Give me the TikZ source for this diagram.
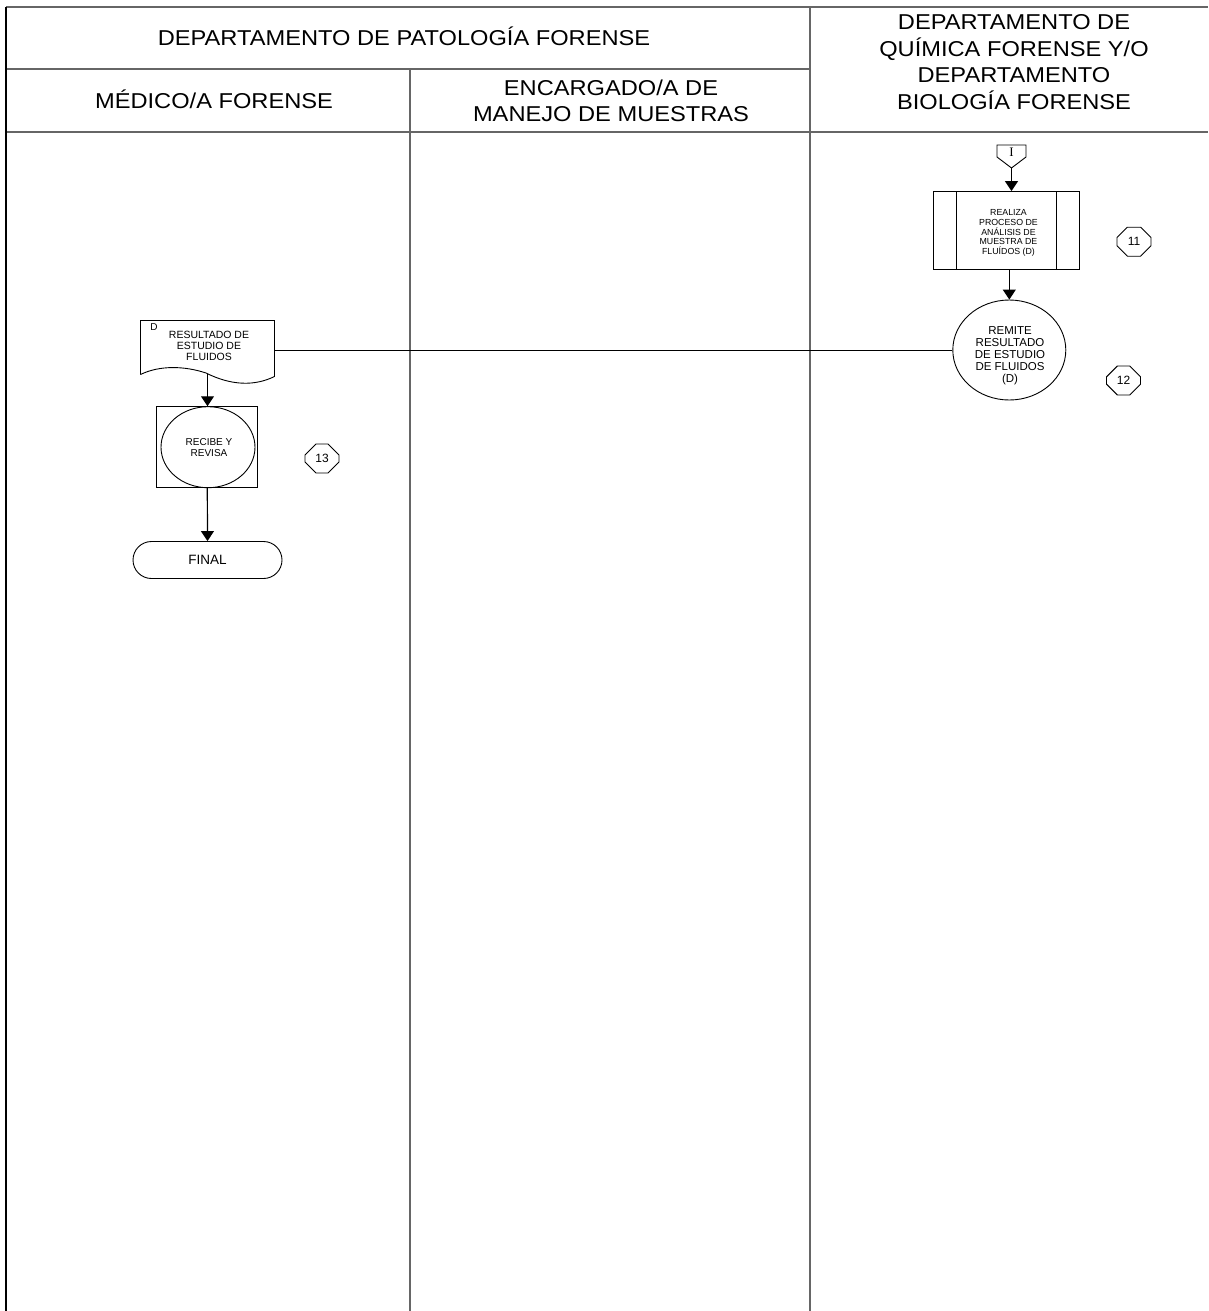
\documentclass[tikz,border=0pt]{standalone}
\usepackage{fontspec}
\setmainfont{Liberation Sans}
\newfontfamily\serifI{Liberation Serif}
\newfontfamily\hdrfont[FakeStretch=1.1]{Liberation Sans}
\usetikzlibrary{shapes.geometric,shapes.misc,arrows.meta,calc}
\begin{document}
\begin{tikzpicture}[x=1pt,y=-1pt,
  frame/.style={line width=1.3pt, draw=black!60},
  hdr/.style={align=center, font=\hdrfont\fontsize{21.5}{25.5}\selectfont, inner sep=0pt},
  hdrq/.style={hdr, font=\hdrfont\fontsize{21.5}{26.5}\selectfont},
  tiny/.style={align=center, font=\fontsize{8.8}{9.8}\selectfont, inner sep=0pt},
  flow/.style={line width=1.2pt, -{Triangle[length=10pt,width=13pt]}},
  conn/.style={line width=1pt},
  shp/.style={draw, line width=0.9pt},
  badge/.style={shp, chamfered rectangle, chamfered rectangle xsep=5pt, chamfered rectangle ysep=7pt,
    minimum width=34pt, minimum height=29pt, inner sep=0pt, font=\fontsize{12}{13}\selectfont},
]
\useasboundingbox (0,0) rectangle (1208,1311);

% swimlane frame
\draw[frame] (6,7) -- (1208,7);
\draw[frame] (6,69) -- (810,69);
\draw[frame] (6,132) -- (1208,132);
\draw[line width=1.3pt] (6,7) -- (6,1311);
\draw[frame] (410,69) -- (410,1311);
\draw[frame] (810,7) -- (810,1311);

% headers
\node[hdr, anchor=base] (hpat) at (404,45.5) {DEPARTAMENTO DE PATOLOGÍA FORENSE};
\node[hdr, anchor=base] (hmed) at (214,109) {MÉDICO/A FORENSE};
\node[hdr] (henc) at (611,101) {ENCARGADO/A DE\\MANEJO DE MUESTRAS};
\node[hdrq] (hqui) at (1014,62) {DEPARTAMENTO DE\\QUÍMICA FORENSE Y/O\\DEPARTAMENTO\\BIOLOGÍA FORENSE};

% off-page connector I
\draw[shp] (997,145) -- (1026,145) -- (1026,157) -- (1011.5,168) -- (997,157) -- cycle;
\node[inner sep=0pt, font=\serifI\fontsize{13}{13}\selectfont] (offc) at (1011.5,152.5) {I};
\coordinate (offcb) at (1011.5,168);

% predefined process
\node[shp, minimum width=146pt, minimum height=78pt, inner sep=0pt] (proc) at (1006.3,230.5) {};
\draw[shp] (956,191.5) -- (956,269.5);
\draw[shp] (1056.7,191.5) -- (1056.7,269.5);
\node[tiny] (proct) at (1008.5,233) {REALIZA\\PROCESO DE\\ANÁLISIS DE\\MUESTRA DE\\FLUÍDOS (D)};
\node[badge] (n11) at (1134,241.7) {11};

% remite circle
\node[shp, ellipse, minimum width=113pt, minimum height=100pt, inner sep=0pt] (remite) at (1009.3,350) {};
\node[align=center, inner sep=0pt, font=\fontsize{11.5}{12.1}\selectfont] (remitet) at (1010,356)
  {REMITE\\RESULTADO\\DE ESTUDIO\\DE FLUIDOS\\(D)};
\node[badge] (n12) at (1123.5,380.5) {12};

\coordinate (procb) at (1009.3,269.5);
\draw[flow] (offcb) -- (offcb |- proc.north);
\draw[flow] (procb) -- (remite.north);

% document
\coordinate (docTL) at (140.5,320.5);
\coordinate (docTR) at (274.5,320.5);
\coordinate (docBR) at (274.5,376.5);
\coordinate (docBL) at (140.5,374.5);
\draw[shp] (docBL) -- (docTL) -- (docTR) -- (docBR)
  .. controls (255,386) and (232,386) .. (206,373)
  .. controls (185,366) and (160,365) .. (docBL);
\node[inner sep=0pt, font=\fontsize{10}{10}\selectfont] (docD) at (154,327) {D};
\node[align=center, inner sep=0pt, font=\fontsize{10.5}{11}\selectfont] (doct) at (209,345.7)
  {RESULTADO DE\\ESTUDIO DE\\FLUIDOS};
\coordinate (docR) at (274.5,350);
\coordinate (docB) at (207.5,373.5);
\draw[conn] (docR) -- (remite.west);

% recibe y revisa
\node[shp, minimum width=101pt, minimum height=81pt, inner sep=0pt] (rbox) at (207.3,447.2) {};
\node[shp, ellipse, minimum width=94pt, minimum height=81pt, inner sep=0pt] (rell) at (208,447.2) {};
\node[align=center, inner sep=0pt, font=\fontsize{10}{11}\selectfont] (rtext) at (209,447.5) {RECIBE Y\\REVISA};
\node[badge] (n13) at (322,458.5) {13};
\draw[flow] (docB) -- (rbox.north -| docB);

% final
\node[shp, rounded rectangle, minimum width=149pt, minimum height=37pt, inner sep=0pt,
  font=\fontsize{13.5}{13.5}\selectfont] (final) at (207.5,560) {FINAL};
\draw[flow] (rbox.south) -- (final.north);
\end{tikzpicture}
\end{document}
